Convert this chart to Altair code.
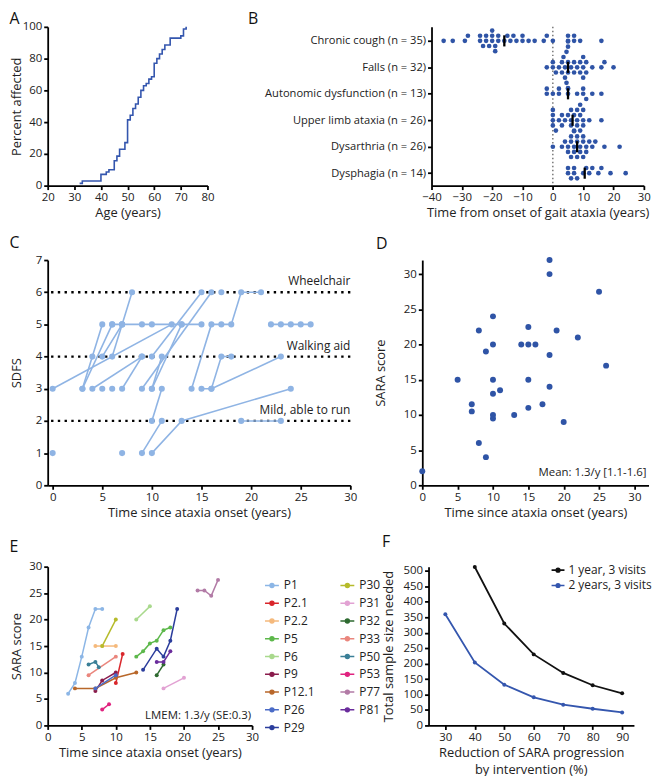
import altair as alt
import pandas as pd

FONT = "Open Sans"
DARK_BLUE = "#2F54A6"
LIGHT_BLUE = "#8FB4E4"
TXT = "#222222"

# ---------------- Panel A: cumulative onset ----------------
a_age = [32, 33, 40, 42, 43, 45, 46, 47, 49, 50, 51, 52, 53, 54, 55, 56, 57, 58, 59,
         60, 61, 62, 63, 64, 66, 70, 71, 72]
a_pct = [1.4, 2.9, 7.1, 8.6, 10.0, 15.7, 18.6, 22.9, 27.1, 41.4, 44.3, 48.6, 51.4, 55.7,
         60.0, 62.9, 64.3, 67.1, 68.6, 77.1, 80.0, 82.9, 85.7, 88.6, 92.9, 94.3, 98.6, 100.0]

# ---------------- Panel B: symptom timing ----------------
b_labels = ["Chronic cough (n = 35)", "Falls (n = 32)", "Autonomic dysfunction (n = 13)",
            "Upper limb ataxia (n = 26)", "Dysarthria (n = 26)", "Dysphagia (n = 14)"]
b_cough = [-36, -33, -29, -28, -24, -24, -23, -22, -22, -21, -20, -20, -20, -19, -19, -18,
           -18, -16, -15, -14, -13, -12, -10, -10, -8, -6, -3, -2, 0, 5, 5, 7, 7, 9, 16]
b_falls = [-2, 0, 0, 1, 2, 3, 3, 3.5, 4, 4, 4.5, 4.5, 5, 5, 5, 5, 5, 6, 7, 7, 8, 9, 9, 10,
           10, 10, 11, 11, 13, 16, 17, 20]
b_auto = [-2, -2, 0, 2, 2, 5, 5, 8, 10, 10, 11, 13, 16]
b_limb = [0, 0, 0, 0, 1, 2, 3, 3, 4, 5, 6, 6, 6, 7, 7, 8, 8, 8, 9, 9, 9, 10, 10, 10, 12, 16]
b_dysarthria = [0, 3, 4, 5, 5, 6, 6, 6, 7, 7, 7, 8, 8, 8, 9, 9, 10, 10, 10, 11, 11, 12, 13,
                14, 17, 22]
b_dysphagia = [5, 5, 6, 7, 7, 8, 10, 11, 12, 13, 15, 16, 19, 24]

# ---------------- Panel C: SDFS trajectories ----------------
c_patient = [1, 1, 2, 3, 3, 3, 4, 4, 5, 5, 6, 7, 8, 8, 9, 9, 9, 10, 10, 11, 11, 11, 11, 11, 11,
             12, 12, 13, 13, 14, 14, 15, 15, 16, 16, 17, 17, 17, 18, 18, 19, 19, 19, 19, 19, 19,
             20, 20, 20, 20, 21, 21, 22, 23, 23, 23, 23, 23, 24, 24, 25]
c_year = [0, 12, 0, 3, 4, 5, 3, 6, 4, 9, 5, 6, 7, 9, 5, 7, 8, 6, 7, 6, 7, 9, 10, 13, 15,
          10, 15, 9, 16, 10, 13, 10, 11, 9, 11, 10, 13, 24, 10, 11, 14, 16, 17, 18, 19, 21,
          15, 16, 17, 18, 16, 23, 17, 22, 23, 24, 25, 26, 19, 23, 7]
c_sdfs = [3, 5, 1, 3, 4, 5, 3, 5, 3, 4, 3, 3, 3, 4, 4, 5, 6, 4, 5, 5, 5, 5, 5, 5, 5,
          4, 6, 3, 6, 3, 5, 3, 4, 1, 2, 1, 2, 3, 2, 3, 3, 5, 5, 5, 6, 6,
          3, 3, 4, 4, 3, 4, 6, 5, 5, 5, 5, 5, 2, 2, 1]
c_ref_level = [2, 4, 6]
c_ref_label = ["Mild, able to run", "Walking aid", "Wheelchair"]

# ---------------- Panel D: SARA cross-sectional ----------------
d_year = [0, 5, 7, 7, 8, 8, 9, 9, 10, 10, 10, 10, 10, 10, 11, 13, 14, 15, 15, 15, 15, 16,
          17, 18, 18, 18, 18, 19, 20, 22, 25, 26]
d_sara = [2, 15, 11.5, 10.5, 22, 6, 19, 4, 24, 20, 15, 13, 10, 9.5, 13.5, 10, 20, 22.5, 20,
          15, 11, 20, 11.5, 32, 30, 18.5, 14, 22, 9, 21, 27.5, 17]

# ---------------- Panel E: SARA longitudinal ----------------
e_names = ["P1", "P2.1", "P2.2", "P5", "P6", "P9", "P12.1", "P26", "P29",
           "P30", "P31", "P32", "P33", "P50", "P53", "P77", "P81"]
e_colors = ["#8CB6E6", "#D9262B", "#F5B97C", "#5DB84B", "#A9D98D", "#8A1C4C", "#B8672A",
            "#4A6BC7", "#2B3D9C", "#B6BB2B", "#E2A2D3", "#2E6A30", "#EA867D", "#3B7F97",
            "#E0237F", "#B27BA6", "#6A2C9C"]
e_patient = ["P1", "P1", "P1", "P1", "P1", "P1", "P2.1", "P2.1", "P2.2", "P2.2", "P2.2",
             "P5", "P5", "P5", "P5", "P5", "P5", "P6", "P6", "P9", "P9", "P9",
             "P12.1", "P12.1", "P12.1", "P12.1", "P26", "P26",
             "P29", "P29", "P29", "P29", "P29", "P30", "P30", "P31", "P31", "P32", "P32",
             "P33", "P33", "P50", "P50", "P50", "P53", "P53",
             "P77", "P77", "P77", "P77", "P81", "P81", "P81"]
e_year = [3, 4, 5, 6, 7, 8, 10, 11, 7, 8, 10,
          13, 14, 15, 16, 17, 18, 13, 15, 7, 8, 10,
          4, 7, 10, 13, 7, 10,
          14, 16, 17, 18, 19, 8, 10, 17, 20, 16, 17,
          6, 10, 6, 7, 7.5, 8, 9,
          22, 23, 24, 25, 16, 17, 18]
e_sara = [6, 8, 13, 18.5, 22, 22, 8, 13.5, 15, 15, 15,
          13, 14, 15.5, 16, 18, 18.5, 20, 22.5, 6.5, 8.5, 10,
          7, 7, 9, 10, 7, 9.5,
          10.5, 14.5, 13, 16, 22, 15, 20, 7, 9, 9.5, 11.5,
          9.5, 13, 11.5, 12, 11, 3, 4,
          25.5, 25.5, 24.5, 27.5, 12, 12, 14]

# ---------------- Panel F: sample size ----------------
f_reduction = [30, 40, 50, 60, 70, 80, 90]
f_one_year = [None, 513, 330, 230, 170, 130, 104]
f_two_years = [360, 204, 132, 91, 67, 54, 42]
f_series = ["1 year, 3 visits", "2 years, 3 visits"]
f_title_lines = ["Reduction of SARA progression", "by intervention (%)"]

# ---------------- layout sizes ----------------
A_W, A_H = 161, 160
B_W, B_H = 214, 160
C_W, C_H = 305, 227
D_W, D_H = 228, 227
E_W, E_H = 206, 160
F_W, F_H = 207, 160
LETTER_X = -38.5
LEGEND_PATH = "M-1,0L1,0M0.28,0A0.28,0.28,0,1,1,-0.28,0A0.28,0.28,0,1,1,0.28,0"


def letter(t, dx, dy):
    return alt.Chart(pd.DataFrame({"t": [t]})).mark_text(
        align="left", baseline="alphabetic", fontSize=16, font=FONT, color="#111111"
    ).encode(text="t:N", x=alt.value(dx), y=alt.value(dy))


# ---------- A ----------
df_a = pd.DataFrame({"age": a_age, "pct": a_pct})
a_line = alt.Chart(df_a).mark_line(interpolate="step-after", color="#3456AE", strokeWidth=1.6).encode(
    x=alt.X("age:Q", scale=alt.Scale(domain=[20, 80], nice=False, zero=False),
            axis=alt.Axis(values=list(range(20, 81, 10)), title="Age (years)")),
    y=alt.Y("pct:Q", scale=alt.Scale(domain=[0, 100], nice=False),
            axis=alt.Axis(values=list(range(0, 101, 20)), title="Percent affected", titlePadding=-1)),
)
panel_a = alt.layer(a_line, letter("A", LETTER_X, -2.5)).properties(width=A_W, height=A_H)


# ---------- B ----------
def swarm(vals, px_x, px_y, d=5.2):
    placed = []
    out = [0.0] * len(vals)
    for k in sorted(range(len(vals)), key=lambda i: vals[i]):
        x = vals[k] * px_x
        for j in range(0, 14):
            dy = ((j + 1) // 2) * d * (1 if j % 2 else -1)
            if all((x - px) ** 2 + (dy - py) ** 2 >= d * d * 0.98 for px, py in placed):
                break
        placed.append((x, dy))
        out[k] = dy / px_y
    return out


b_values = [b_cough, b_falls, b_auto, b_limb, b_dysarthria, b_dysphagia]
rows = []
for i, (lab, vals) in enumerate(zip(b_labels, b_values)):
    idx = len(b_labels) - 1 - i
    offs = swarm(vals, B_W / 70.0, B_H / 6.0)
    for v, o in zip(vals, offs):
        rows.append({"cat": lab, "idx": idx, "val": v, "pos": idx + o})
df_b = pd.DataFrame(rows)
label_expr = "[" + ",".join("'" + l + "'" for l in reversed(b_labels)) + "][datum.value]"
b_xscale = alt.Scale(domain=[-40, 30], nice=False, zero=False)
b_xaxis = alt.Axis(values=list(range(-40, 31, 10)), title="Time from onset of gait ataxia (years)")
b_yscale = alt.Scale(domain=[-0.47, 5.53], nice=False, zero=False)
b_yaxis = alt.Axis(values=[0, 1, 2, 3, 4, 5], labelExpr=label_expr, title=None,
                   labelFontSize=11.2, labelOverlap=False)
b_dots = alt.Chart(df_b).mark_circle(size=22, color=DARK_BLUE, opacity=1).encode(
    x=alt.X("val:Q", scale=b_xscale, axis=b_xaxis),
    y=alt.Y("pos:Q", scale=b_yscale, axis=b_yaxis),
)
b_zero = alt.Chart(pd.DataFrame({"z": [0]})).mark_rule(
    color="#555555", strokeDash=[1.5, 2.5], strokeWidth=1.2).encode(
    x=alt.X("z:Q", scale=b_xscale, axis=b_xaxis))
b_med = alt.Chart(df_b).transform_aggregate(
    m="median(val)", groupby=["idx"]
).transform_calculate(y1="datum.idx - 0.21", y2="datum.idx + 0.21").mark_rule(
    color="black", strokeWidth=2.3).encode(
    x=alt.X("m:Q", scale=b_xscale, axis=b_xaxis),
    y=alt.Y("y1:Q", scale=b_yscale, axis=b_yaxis), y2="y2:Q")
panel_b = alt.layer(b_zero, b_dots, b_med, letter("B", -185, -2.5)).properties(width=B_W, height=B_H)

# ---------- C ----------
df_c = pd.DataFrame({"pid": c_patient, "year": c_year, "sdfs": c_sdfs})
df_cref = pd.DataFrame({"lvl": c_ref_level, "lab": c_ref_label})
c_xscale = alt.Scale(domain=[-0.5, 30], nice=False, zero=False)
c_xaxis = alt.Axis(values=list(range(0, 31, 5)), title="Time since ataxia onset (years)")
c_yscale = alt.Scale(domain=[0, 7], nice=False)
c_yaxis = alt.Axis(values=list(range(0, 8)), title="SDFS", titlePadding=12)
cx = alt.X("year:Q", scale=c_xscale, axis=c_xaxis)
cy = alt.Y("sdfs:Q", scale=c_yscale, axis=c_yaxis)
c_refl = alt.Chart(df_cref).mark_rule(color="black", strokeDash=[2.4, 4.4], strokeWidth=2.4).encode(
    y=alt.Y("lvl:Q", scale=c_yscale, axis=c_yaxis))
c_reft = alt.Chart(df_cref).mark_text(align="right", baseline="alphabetic", dy=-7, fontSize=12,
                                      font=FONT, color=TXT).encode(
    x=alt.datum(30), y=alt.Y("lvl:Q", scale=c_yscale, axis=c_yaxis), text="lab:N")
c_lines = alt.Chart(df_c).mark_line(color=LIGHT_BLUE, strokeWidth=1.6).encode(x=cx, y=cy, detail="pid:N")
c_pts = alt.Chart(df_c).mark_circle(color=LIGHT_BLUE, size=38, opacity=1).encode(x=cx, y=cy)
panel_c = alt.layer(c_refl, c_reft, c_lines, c_pts, letter("C", LETTER_X, -12)).properties(
    width=C_W, height=C_H)

# ---------- D ----------
df_d = pd.DataFrame({"year": d_year, "sara": d_sara})
d_pts = alt.Chart(df_d).mark_circle(color=DARK_BLUE, size=36, opacity=1).encode(
    x=alt.X("year:Q", scale=alt.Scale(domain=[0, 32], nice=False),
            axis=alt.Axis(values=list(range(0, 31, 5)), title="Time since ataxia onset (years)")),
    y=alt.Y("sara:Q", scale=alt.Scale(domain=[0, 32], nice=False),
            axis=alt.Axis(values=list(range(0, 31, 5)), title="SARA score", titlePadding=16)),
)
d_txt = alt.Chart(pd.DataFrame({"t": ["Mean: 1.3/y [1.1-1.6]"]})).mark_text(
    align="right", baseline="alphabetic", fontSize=11.5, font=FONT, color=TXT).encode(
    text="t:N", x=alt.value(D_W - 2), y=alt.value(D_H - 9))
panel_d = alt.layer(d_pts, d_txt, letter("D", -46.7, -11)).properties(width=D_W, height=D_H)

# ---------- E ----------
df_e = pd.DataFrame({"pid": e_patient, "year": e_year, "sara": e_sara})
e_legend = alt.Legend(title=None, columns=2, orient="none", legendX=218, legendY=11,
                      symbolType=LEGEND_PATH, symbolSize=196, symbolStrokeWidth=1.5,
                      labelFontSize=12, labelFont=FONT, labelColor=TXT, rowPadding=3.9,
                      columnPadding=23, labelOffset=4, padding=0)
e_color = alt.Color("pid:N", scale=alt.Scale(domain=e_names, range=e_colors), legend=e_legend)
ex = alt.X("year:Q", scale=alt.Scale(domain=[0, 30], nice=False),
           axis=alt.Axis(values=list(range(0, 31, 5)), title="Time since ataxia onset (years)"))
ey = alt.Y("sara:Q", scale=alt.Scale(domain=[0, 30], nice=False),
           axis=alt.Axis(values=list(range(0, 31, 5)), title="SARA score", titlePadding=5))
e_lines = alt.Chart(df_e).mark_line(strokeWidth=1.5).encode(x=ex, y=ey, color=e_color, detail="pid:N")
e_pts = alt.Chart(df_e).mark_circle(size=16, opacity=1).encode(x=ex, y=ey, color=e_color)
e_txt = alt.Chart(pd.DataFrame({"t": ["LMEM: 1.3/y (SE:0.3)"]})).mark_text(
    align="right", baseline="alphabetic", fontSize=11.5, font=FONT, color=TXT).encode(
    text="t:N", x=alt.value(E_W - 1), y=alt.value(E_H - 6))
panel_e = alt.layer(e_lines, e_pts, e_txt, letter("E", LETTER_X, -15)).properties(width=E_W, height=E_H)

# ---------- F ----------
f_rows = []
for r, a, b in zip(f_reduction, f_one_year, f_two_years):
    if a is not None:
        f_rows.append({"red": r, "n": a, "series": f_series[0]})
    f_rows.append({"red": r, "n": b, "series": f_series[1]})
df_f = pd.DataFrame(f_rows)
f_legend = alt.Legend(title=None, orient="none", legendX=123, legendY=-4, symbolType=LEGEND_PATH,
                      symbolSize=169, symbolStrokeWidth=1.6, labelFontSize=12, labelFont=FONT,
                      labelColor=TXT, rowPadding=1.5, labelOffset=3, padding=0)
f_color = alt.Color("series:N", scale=alt.Scale(domain=f_series, range=["#111111", "#3456AE"]),
                    legend=f_legend)
fx = alt.X("red:Q", scale=alt.Scale(domain=[24.3, 94], nice=False, zero=False),
           axis=alt.Axis(values=list(range(30, 91, 10)), titlePadding=4, title=f_title_lines[0]))
fy = alt.Y("n:Q", scale=alt.Scale(domain=[0, 514], nice=False),
           axis=alt.Axis(values=list(range(0, 501, 50)), title="Total sample size needed", titlePadding=8))
f_lines = alt.Chart(df_f).mark_line(strokeWidth=1.8).encode(x=fx, y=fy, color=f_color)
f_pts = alt.Chart(df_f).mark_circle(size=16, opacity=1).encode(x=fx, y=fy, color=f_color)
f_title2 = alt.Chart(pd.DataFrame({"t": [f_title_lines[1]]})).mark_text(
    align="center", baseline="alphabetic", fontSize=13, font=FONT, color=TXT).encode(
    text="t:N", x=alt.value(F_W / 2), y=alt.value(F_H + 48.5))
panel_f = alt.layer(f_lines, f_pts, f_title2, letter("F", -47, -20)).properties(width=F_W, height=F_H)

row1 = alt.hconcat(panel_a, panel_b, spacing=225.8, bounds="flush").resolve_scale(
    color="independent").resolve_legend(color="independent")
row2 = alt.hconcat(panel_c, panel_d, spacing=72.5, bounds="flush").resolve_scale(
    color="independent").resolve_legend(color="independent")
row3 = alt.hconcat(panel_e, panel_f, spacing=177.8, bounds="flush").resolve_scale(
    color="independent").resolve_legend(color="independent")

top_rows = alt.vconcat(row1, row2, spacing=15).resolve_scale(
    color="independent").resolve_legend(color="independent")

chart = alt.vconcat(top_rows, row3, spacing=14).resolve_scale(
    color="independent").resolve_legend(color="independent").properties(
    padding={"left": 1, "top": 0, "right": 0, "bottom": 0}
).configure_view(stroke=None).configure_axis(
    grid=False, domainColor="black", domainWidth=1.8, tickColor="black", tickWidth=1.8,
    tickSize=4, labelFont=FONT, labelFontSize=11.5, labelColor=TXT, titleFont=FONT,
    titleFontSize=13, titleFontWeight="normal", titleColor=TXT, labelPadding=2,
    titlePadding=4, labelFlush=False, labelOverlap=False
).configure_text(font=FONT).configure_legend(labelFont=FONT)

chart.save("out.html", embed_options={"renderer": "svg", "actions": False})
